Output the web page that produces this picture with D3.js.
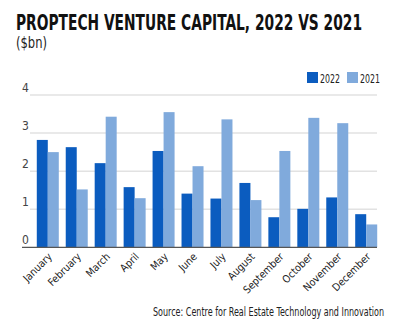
<!DOCTYPE html>
<html>
<head>
<meta charset="utf-8">
<script src="https://cdn.jsdelivr.net/npm/d3@7"></script>
<style>
body{margin:0;background:#fff;}
svg{display:block;}
text{font-family:"DejaVu Sans Condensed","Liberation Sans Narrow",sans-serif;}
</style>
</head>
<body>
<svg id="chart" width="400" height="331"></svg>
<script>
// data
var months=["January","February","March","April","May","June","July","August","September","October","November","December"];
var seriesNames=["2022","2021"];
var vals2022=[2.82,2.63,2.21,1.58,2.53,1.41,1.28,1.69,0.79,1.01,1.31,0.87];
var vals2021=[2.50,1.52,3.43,1.29,3.55,2.13,3.36,1.24,2.53,3.40,3.26,0.60];
var yTicks=[0,1,2,3,4];
var colors=["#0b5cbf","#80aadc"];

var svg=d3.select("#chart");

// title
svg.append("text").attr("x",16).attr("y",30)
	.attr("font-size",22).attr("font-weight","bold").attr("fill","#111")
	.attr("textLength",346).attr("lengthAdjust","spacingAndGlyphs")
	.text("PROPTECH VENTURE CAPITAL, 2022 VS 2021");
svg.append("text").attr("x",16).attr("y",48)
	.attr("font-size",16).attr("fill","#222")
	.attr("textLength",31).attr("lengthAdjust","spacingAndGlyphs")
	.text("($bn)");

var x=d3.scaleBand().domain(months).range([31,383]).paddingInner(0.24).paddingOuter(0.2);
var x1=d3.scaleBand().domain(seriesNames).range([0,x.bandwidth()]);
var y=d3.scaleLinear().domain([0,4]).range([247.3,95]);

// gridlines + y labels
var grid=svg.append("g");
grid.selectAll("line").data(yTicks.filter(function(d){return d>0;})).enter().append("line")
	.attr("x1",30).attr("x2",377).attr("y1",function(d){return y(d);}).attr("y2",function(d){return y(d);})
	.attr("stroke","#e2e2e2").attr("stroke-width",1.5);
grid.selectAll("text").data(yTicks).enter().append("text")
	.attr("x",22).attr("y",function(d){return y(d)-3;})
	.attr("font-size",12).attr("fill","#444")
	.text(function(d){return d;});

// bars
var rows=months.map(function(m,i){return {month:m,vals:[vals2022[i],vals2021[i]]};});
var groups=svg.selectAll(".grp").data(rows).enter().append("g").attr("class","grp")
	.attr("transform",function(d){return "translate("+x(d.month)+",0)";});
groups.selectAll("rect").data(function(d){return d.vals.map(function(v,j){return {s:seriesNames[j],v:v,c:colors[j]};});})
	.enter().append("rect")
	.attr("x",function(d){return x1(d.s);}).attr("width",x1.bandwidth())
	.attr("y",function(d){return y(d.v);}).attr("height",function(d){return y(0)-y(d.v);})
	.attr("fill",function(d){return d.c;});

// baseline
svg.append("line").attr("x1",22).attr("x2",377).attr("y1",y(0)).attr("y2",y(0))
	.attr("stroke","#555").attr("stroke-width",1.2);

// x labels
var xAxis=d3.axisBottom(x).tickSize(0).tickPadding(0);
var gx=svg.append("g").attr("transform","translate(0,"+(y(0)+4)+")").call(xAxis);
gx.select(".domain").remove();
gx.selectAll("text")
	.attr("font-size",10.5).attr("fill","#222").attr("font-family",null)
	.attr("text-anchor","end").attr("dy",null).attr("y",0)
	.attr("transform","translate(5,6) rotate(-45)");

// legend
var leg=svg.append("g").attr("transform","translate(307,72)");
seriesNames.forEach(function(n,i){
	var g=leg.append("g").attr("transform","translate("+(i*40)+",0)");
	g.append("rect").attr("width",11).attr("height",11).attr("fill",colors[i]);
	g.append("text").attr("x",13).attr("y",10.5).attr("font-size",11.5).attr("fill","#222")
		.attr("textLength",20).attr("lengthAdjust","spacingAndGlyphs").text(n);
});

// source
svg.append("text").attr("x",153).attr("y",316)
	.attr("font-size",12.5).attr("fill","#222")
	.attr("textLength",231).attr("lengthAdjust","spacingAndGlyphs")
	.text("Source: Centre for Real Estate Technology and Innovation");
</script>
</body>
</html>
